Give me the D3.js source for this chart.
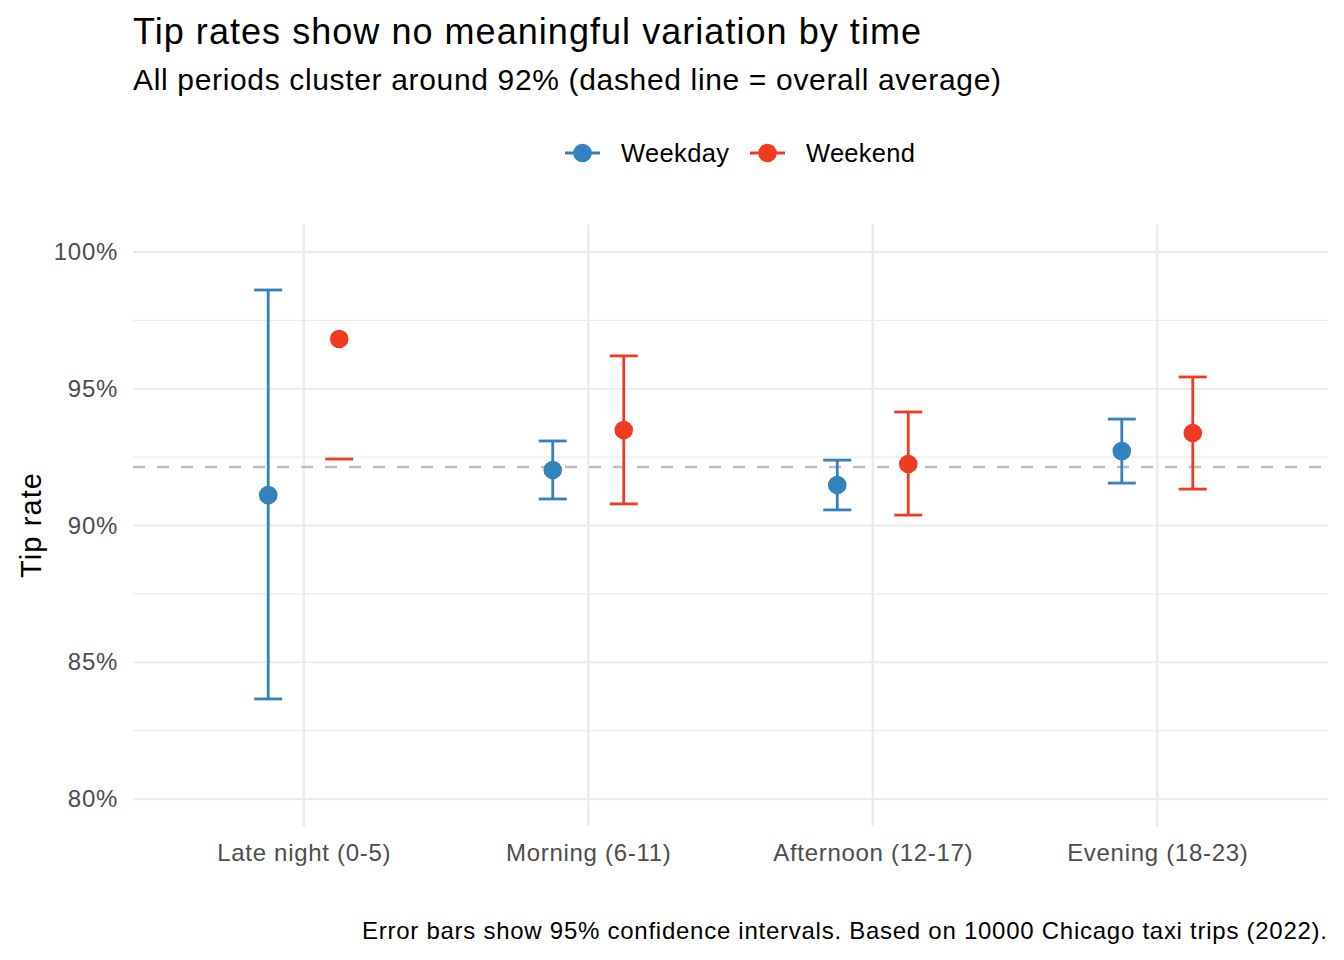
<!DOCTYPE html>
<html><head><meta charset="utf-8">
<script src="https://cdn.jsdelivr.net/npm/d3@7"></script>
<style>body{margin:0;background:#fff}text{font-family:"Liberation Sans",Arial,sans-serif}</style>
</head><body>
<svg id="chart" width="1344" height="960"></svg>
<script>
const categories = ["Late night (0-5)", "Morning (6-11)", "Afternoon (12-17)", "Evening (18-23)"];
const groups = ["Weekday", "Weekend"];
const colors = ["#3182bd", "#f03b20"];
const weekdayMean = [91.11, 92.03, 91.48, 92.72];
const weekdayLow  = [83.66, 90.97, 90.57, 91.55];
const weekdayHigh = [98.61, 93.09, 92.39, 93.89];
const weekendMean = [96.82, 93.49, 92.25, 93.38];
const weekendLow  = [92.43, 90.79, 90.38, 91.33];
const weekendHigh = [null, 96.20, 94.15, 95.43]; // upper bound beyond the axis limit
const overallAvg = 92.14;
const yTicks = [80, 85, 90, 95, 100];
const yMinor = [82.5, 87.5, 92.5, 97.5];

const svg = d3.select("#chart");
const L = 133, R = 1328, T = 224.6, B = 826.4;

const x = d3.scalePoint().domain(categories).range([L, R]).padding(0.6);
const y = d3.scaleLinear().domain([79, 101]).range([B, T]);
const dodge = d3.scalePoint().domain(groups).range([-35.5, 35.5]);

const rows = [];
categories.forEach((c, i) => {
  rows.push({cat: c, g: "Weekday", m: weekdayMean[i], lo: weekdayLow[i], hi: weekdayHigh[i]});
  rows.push({cat: c, g: "Weekend", m: weekendMean[i], lo: weekendLow[i], hi: weekendHigh[i]});
});
const col = d3.scaleOrdinal().domain(groups).range(colors);

// grid
const grid = svg.append("g");
grid.selectAll(".minor").data(yMinor).join("line")
  .attr("x1", L).attr("x2", R).attr("y1", d => y(d)).attr("y2", d => y(d))
  .attr("stroke", "#ebebeb").attr("stroke-width", 1.1);
grid.selectAll(".major").data(yTicks).join("line")
  .attr("x1", L).attr("x2", R).attr("y1", d => y(d)).attr("y2", d => y(d))
  .attr("stroke", "#ebebeb").attr("stroke-width", 2.2);
grid.selectAll(".vx").data(categories).join("line")
  .attr("x1", d => x(d)).attr("x2", d => x(d)).attr("y1", T).attr("y2", B)
  .attr("stroke", "#ebebeb").attr("stroke-width", 2.4);

// axes
const yAxis = svg.append("g").attr("transform", `translate(${L},0)`)
  .call(d3.axisLeft(y).tickValues(yTicks).tickSize(0).tickPadding(15).tickFormat(d => d + "%"));
yAxis.select(".domain").remove();
yAxis.selectAll("text").attr("fill", "#4d4d4d").style("font-size", "24px").style("letter-spacing", "0.7px");

const xAxis = svg.append("g").attr("transform", `translate(0,${B})`)
  .call(d3.axisBottom(x).tickSize(0).tickPadding(17.5));
xAxis.select(".domain").remove();
xAxis.selectAll("text").attr("fill", "#4d4d4d").style("font-size", "24px").style("letter-spacing", "0.7px");

// dashed average
svg.append("line").attr("x1", L).attr("x2", R).attr("y1", y(overallAvg)).attr("y2", y(overallAvg))
  .attr("stroke", "#bebebe").attr("stroke-width", 2.6).attr("stroke-dasharray", "12,12");

// error bars
const eb = svg.append("g").selectAll("g").data(rows).join("g")
  .attr("stroke", d => col(d.g)).attr("stroke-width", 2.8).attr("fill", "none");
const hw = 14;
eb.each(function(d) {
  const g = d3.select(this);
  const cx = x(d.cat) + dodge(d.g);
  if (d.hi !== null) {
    g.append("line").attr("x1", cx).attr("x2", cx).attr("y1", y(d.lo)).attr("y2", y(d.hi));
    g.append("line").attr("x1", cx - hw).attr("x2", cx + hw).attr("y1", y(d.hi)).attr("y2", y(d.hi));
  }
  g.append("line").attr("x1", cx - hw).attr("x2", cx + hw).attr("y1", y(d.lo)).attr("y2", y(d.lo));
});

// points
svg.append("g").selectAll("circle").data(rows).join("circle")
  .attr("cx", d => x(d.cat) + dodge(d.g)).attr("cy", d => y(d.m)).attr("r", 9.3)
  .attr("fill", d => col(d.g));

// titles
svg.append("text").attr("x", L).attr("y", 44).text("Tip rates show no meaningful variation by time")
  .style("font-size", "36px").attr("textLength", 788).attr("lengthAdjust", "spacing").attr("fill", "#000");
svg.append("text").attr("x", L).attr("y", 90).text("All periods cluster around 92% (dashed line = overall average)")
  .style("font-size", "30px").attr("textLength", 868).attr("lengthAdjust", "spacing").attr("fill", "#000");
svg.append("text").attr("transform", `translate(41,${(T + B) / 2}) rotate(-90)`).attr("text-anchor", "middle")
  .text("Tip rate").style("font-size", "29px").attr("textLength", 105).attr("lengthAdjust", "spacing").attr("fill", "#000");
svg.append("text").attr("x", R - 1).attr("y", 939).attr("text-anchor", "end")
  .text("Error bars show 95% confidence intervals. Based on 10000 Chicago taxi trips (2022).")
  .style("font-size", "24px").attr("textLength", 965).attr("lengthAdjust", "spacing").attr("fill", "#000");

// legend
const legend = svg.append("g");
const lx = [565, 750];
const lw = [108, 109];
groups.forEach((g, i) => {
  const k = legend.append("g").attr("transform", `translate(${lx[i]},153)`);
  k.append("line").attr("x1", 0).attr("x2", 35).attr("stroke", colors[i]).attr("stroke-width", 2.8);
  k.append("circle").attr("cx", 17.5).attr("r", 9.3).attr("fill", colors[i]);
  k.append("text").attr("x", 56).attr("y", 0).attr("dy", "0.36em").text(g)
    .style("font-size", "25.5px").attr("textLength", lw[i]).attr("lengthAdjust", "spacing").attr("fill", "#000");
});
</script>
</body></html>
